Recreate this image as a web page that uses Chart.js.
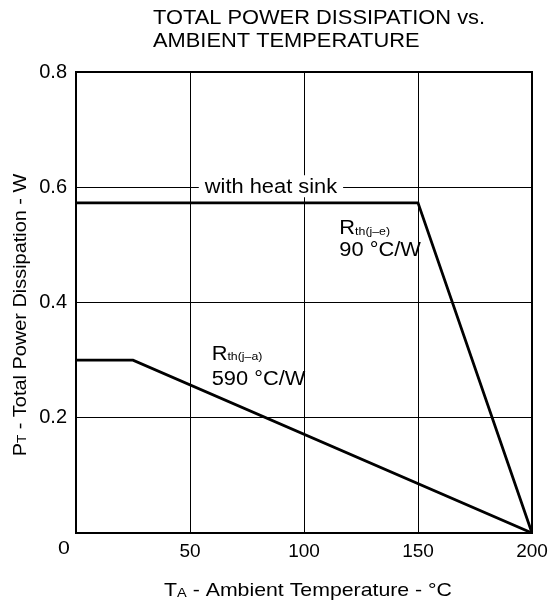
<!DOCTYPE html>
<html>
<head>
<meta charset="utf-8">
<script src="https://cdn.jsdelivr.net/npm/chart.js@4"></script>
<style>
  body { margin: 0; background: #fff; }
  #wrap { width: 550px; height: 607px; }
</style>
</head>
<body>
<div id="wrap"><canvas id="chart"></canvas></div>
<script>
// データ
const tempHeatSink = [0, 150, 200];
const powerHeatSink = [0.573, 0.573, 0];
const tempFree = [0, 25, 200];
const powerFree = [0.3, 0.3, 0];
const xTicks = [0, 50, 100, 150, 200];
const yTicks = [0, 0.2, 0.4, 0.6, 0.8];

const FONT = '"Liberation Sans", Arial, sans-serif';
const SX = 1.12; // 元図の文字はやや横長

const toPoints = (xs, ys) => xs.map((x, i) => ({ x, y: ys[i] }));

// 添字つきテキストを横長で描画
const drawRich = (ctx, parts, x, y, align) => {
  let total = 0;
  parts.forEach(p => {
    ctx.font = p.size + 'px ' + FONT;
    total += ctx.measureText(p.t).width;
  });
  ctx.save();
  ctx.translate(x, y);
  ctx.scale(SX, 1);
  ctx.textAlign = 'left';
  let cx = align === 'center' ? -total / 2 : 0;
  parts.forEach(p => {
    ctx.font = p.size + 'px ' + FONT;
    ctx.fillText(p.t, cx, p.dy || 0);
    cx += ctx.measureText(p.t).width;
  });
  ctx.restore();
  return total * SX;
};

const textPlugin = {
  id: 'texts',
  afterDraw(chart) {
    const { ctx, chartArea, scales } = chart;
    const { left, top, right, bottom } = chartArea;
    ctx.save();
    ctx.fillStyle = '#000';
    ctx.textBaseline = 'middle';

    // 枠線
    ctx.strokeStyle = '#000';
    ctx.lineWidth = 2;
    ctx.strokeRect(left, top, right - left, bottom - top);

    // タイトル
    drawRich(ctx, [{ t: 'TOTAL POWER DISSIPATION vs.', size: 19.5 }], 153, 19, 'left');
    drawRich(ctx, [{ t: 'AMBIENT TEMPERATURE', size: 19.5 }], 153, 42, 'left');

    // 原点の "0"
    drawRich(ctx, [{ t: '0', size: 19 }], 64, 549, 'center');

    // with heat sink ラベル
    const hx = scales.x.getPixelForValue(85.5);
    const hy = scales.y.getPixelForValue(0.6);
    ctx.font = '19.5px ' + FONT;
    const hw = ctx.measureText('with heat sink').width * SX;
    ctx.fillStyle = '#fff';
    ctx.fillRect(hx - hw / 2 - 6, hy - 12, hw + 12, 22);
    ctx.fillStyle = '#000';
    drawRich(ctx, [{ t: 'with heat sink', size: 19.5 }], hx, hy, 'center');

    // 熱抵抗ラベル
    const ex = scales.x.getPixelForValue(115.5);
    const ey = scales.y.getPixelForValue(0.528);
    drawRich(ctx, [{ t: 'R', size: 19.5 }, { t: 'th(j–e)', size: 11, dy: 3 }], ex, ey, 'left');
    drawRich(ctx, [{ t: '90 °C/W', size: 19.5 }], ex, ey + 22, 'left');

    const ax = scales.x.getPixelForValue(59.5);
    const ay = scales.y.getPixelForValue(0.31);
    drawRich(ctx, [{ t: 'R', size: 19.5 }, { t: 'th(j–a)', size: 11, dy: 3 }], ax, ay, 'left');
    drawRich(ctx, [{ t: '590 °C/W', size: 19.5 }], ax, ay + 25, 'left');

    // 軸タイトル
    drawRich(ctx, [
      { t: 'T', size: 19 }, { t: 'A', size: 13, dy: 2 },
      { t: ' - Ambient Temperature - °C', size: 19 }
    ], (left + right) / 2 + 4, 591, 'center');

    ctx.translate(21, 315);
    ctx.rotate(-Math.PI / 2);
    drawRich(ctx, [
      { t: 'P', size: 17.8 }, { t: 'T', size: 12, dy: 2 },
      { t: ' - Total Power Dissipation - W', size: 17.8 }
    ], 0, 0, 'center');
    ctx.restore();
  }
};

new Chart(document.getElementById('chart'), {
  type: 'scatter',
  data: {
    datasets: [
      {
        label: 'with heat sink',
        data: toPoints(tempHeatSink, powerHeatSink),
        showLine: true,
        borderColor: '#000',
        borderWidth: 2.8,
        pointRadius: 0,
        tension: 0,
      },
      {
        label: 'free air',
        data: toPoints(tempFree, powerFree),
        showLine: true,
        borderColor: '#000',
        borderWidth: 2.8,
        pointRadius: 0,
        tension: 0,
      },
    ],
  },
  options: {
    responsive: true,
    maintainAspectRatio: false,
    animation: false,
    layout: { padding: { left: 0, right: 18, top: 72, bottom: 0 } },
    plugins: {
      legend: { display: false },
      tooltip: { enabled: false },
    },
    scales: {
      x: {
        type: 'linear',
        min: xTicks[0],
        max: xTicks[xTicks.length - 1],
        afterBuildTicks: (scale) => { scale.ticks = xTicks.map(v => ({ value: v })); },
        afterFit: (scale) => {
          scale.height = 74;
          scale.paddingLeft = 0;
          scale.paddingRight = 0;
        },
        grid: { color: '#000', lineWidth: 1, drawTicks: false },
        border: { display: false },
        ticks: {
          padding: 7,
          color: '#000',
          font: { family: FONT, size: 19 },
          maxRotation: 0,
          callback: (v) => (v === 0 ? '' : String(v)),
        },
      },
      y: {
        type: 'linear',
        min: yTicks[0],
        max: yTicks[yTicks.length - 1],
        afterBuildTicks: (scale) => { scale.ticks = yTicks.map(v => ({ value: v })); },
        afterFit: (scale) => {
          scale.width = 76;
          scale.paddingTop = 0;
          scale.paddingBottom = 0;
        },
        grid: { color: '#000', lineWidth: 1, drawTicks: false },
        border: { display: false },
        ticks: {
          padding: 9,
          color: '#000',
          font: { family: FONT, size: 20 },
          callback: (v) => (v === 0 ? '' : v.toFixed(1)),
        },
      },
    },
  },
  plugins: [textPlugin],
});
</script>
</body>
</html>
